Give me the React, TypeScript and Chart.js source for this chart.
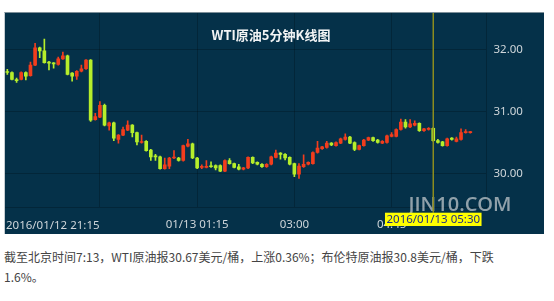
import React, { useEffect, useRef } from "react";
import { Chart, registerables } from "chart.js";

Chart.register(...registerables);

// ---- data ----
const openP = [
  31.64, 31.63, 31.51, 31.52, 31.63, 31.58, 31.75, 32.03, 31.98, 31.80,
  31.78, 31.76, 31.85, 31.90, 31.62, 31.57, 31.65, 31.69, 31.83, 30.87,
  30.91, 31.10, 30.77, 30.82, 30.55, 30.62, 30.70, 30.78, 30.66, 30.50,
  30.52, 30.38, 30.28, 30.27, 30.08, 30.12, 30.25, 30.25, 30.21, 30.44,
  30.48, 30.25, 30.10, 30.10, 30.12, 30.13, 30.13, 30.04, 30.21, 30.16,
  30.11, 30.07, 30.09, 30.26, 30.18, 30.15, 30.11, 30.15, 30.26, 30.33,
  30.31, 30.26, 30.16, 29.99, 30.11, 30.15, 30.16, 30.34, 30.40, 30.42,
  30.49, 30.45, 30.49, 30.55, 30.59, 30.50, 30.39, 30.45, 30.54, 30.58,
  30.54, 30.49, 30.50, 30.60, 30.60, 30.71, 30.83, 30.75, 30.78, 30.81,
  30.69, 30.71, 30.73, 30.53, 30.51, 30.45, 30.57, 30.52, 30.55, 30.66,
  30.66,
];
const highP = [
  31.68, 31.64, 31.54, 31.64, 31.64, 31.80, 32.10, 32.04, 32.17, 31.81,
  31.79, 31.88, 31.96, 31.91, 31.63, 31.66, 31.75, 31.84, 31.84, 30.97,
  31.16, 31.12, 30.83, 30.83, 30.63, 30.75, 30.85, 30.79, 30.67, 30.62,
  30.53, 30.39, 30.31, 30.28, 30.25, 30.26, 30.37, 30.26, 30.46, 30.55,
  30.49, 30.26, 30.14, 30.21, 30.19, 30.14, 30.14, 30.22, 30.24, 30.17,
  30.15, 30.10, 30.27, 30.27, 30.19, 30.16, 30.16, 30.28, 30.38, 30.34,
  30.32, 30.27, 30.17, 30.16, 30.30, 30.19, 30.35, 30.52, 30.44, 30.52,
  30.50, 30.51, 30.57, 30.64, 30.60, 30.51, 30.46, 30.55, 30.59, 30.59,
  30.55, 30.53, 30.62, 30.66, 30.72, 30.88, 30.87, 30.87, 30.85, 30.82,
  30.73, 30.74, 30.74, 30.55, 30.52, 30.57, 30.58, 30.59, 30.72, 30.71,
  30.68,
];
const lowP = [
  31.60, 31.51, 31.47, 31.51, 31.51, 31.57, 31.74, 31.87, 31.78, 31.67,
  31.70, 31.75, 31.84, 31.59, 31.49, 31.52, 31.64, 31.68, 30.84, 30.86,
  30.90, 30.77, 30.70, 30.53, 30.49, 30.61, 30.69, 30.59, 30.46, 30.49,
  30.36, 30.21, 30.21, 30.07, 30.07, 30.08, 30.24, 30.20, 30.20, 30.43,
  30.24, 30.08, 30.08, 30.09, 30.10, 30.06, 30.03, 30.03, 30.15, 30.09,
  30.06, 30.06, 30.08, 30.16, 30.14, 30.10, 30.10, 30.14, 30.25, 30.23,
  30.22, 30.14, 29.95, 29.92, 30.10, 30.14, 30.15, 30.33, 30.39, 30.41,
  30.45, 30.44, 30.48, 30.54, 30.48, 30.37, 30.38, 30.44, 30.53, 30.52,
  30.49, 30.48, 30.49, 30.59, 30.59, 30.70, 30.73, 30.74, 30.77, 30.68,
  30.68, 30.70, 30.52, 30.49, 30.44, 30.44, 30.54, 30.51, 30.54, 30.65,
  30.65,
];
const closeP = [
  31.63, 31.52, 31.50, 31.63, 31.57, 31.75, 32.03, 31.98, 31.79, 31.78,
  31.77, 31.85, 31.90, 31.60, 31.57, 31.65, 31.69, 31.83, 30.86, 30.92,
  31.10, 30.78, 30.82, 30.57, 30.62, 30.71, 30.78, 30.66, 30.51, 30.51,
  30.37, 30.27, 30.27, 30.08, 30.14, 30.25, 30.26, 30.21, 30.45, 30.48,
  30.25, 30.09, 30.11, 30.11, 30.11, 30.09, 30.04, 30.21, 30.16, 30.10,
  30.07, 30.09, 30.26, 30.17, 30.15, 30.11, 30.15, 30.27, 30.33, 30.31,
  30.25, 30.15, 29.99, 30.12, 30.15, 30.18, 30.34, 30.41, 30.43, 30.49,
  30.46, 30.50, 30.56, 30.59, 30.49, 30.39, 30.45, 30.54, 30.58, 30.53,
  30.50, 30.52, 30.61, 30.63, 30.71, 30.83, 30.75, 30.80, 30.81, 30.69,
  30.72, 30.73, 30.53, 30.50, 30.45, 30.56, 30.55, 30.56, 30.66, 30.67,
  30.67,
];

const slotCount = 104; // 5-minute slots on the axis (last few empty)
const startMinutes = 21 * 60 + 50; // first candle 21:50
const categories: string[] = [];
for (let i = 0; i < slotCount; i++) {
  const m = (startMinutes + i * 5) % 1440;
  categories.push(
    String(Math.floor(m / 60)).padStart(2, "0") + ":" + String(m % 60).padStart(2, "0")
  );
}

const gridIdx = [20, 41, 62, 83];
const axisTickIdx = [41, 62, 83];
const axisTickText = ["01/13 01:15", "03:00", "04:45"];
const firstLabel = "2016/01/12 21:15";
const crossIdx = 92;
const crossLabel = "2016/01/13 05:30";
const yTicks = [30, 31, 32];
const yMin = 29.46;
const yMax = 32.59;
const titleText = "WTI原油5分钟K线图";
const watermark = "JIN10.COM";

// ---- styles ----
const BG = "#053149";
const GRID = "rgba(0,0,0,0.22)";
const TICK = "#cfd6da";
const UP = "#f23d1d";
const DOWN = "#b6ee2b";
const FONT = '"Noto Sans", "Open Sans", sans-serif';

export default function App() {
  const ref = useRef<HTMLCanvasElement>(null);

  useEffect(() => {
    const colors = openP.map((o, i) => (closeP[i] >= o ? UP : DOWN));
    const wicks = openP.map((_, i) => [lowP[i], highP[i]]);
    const bodies = openP.map((o, i) => [o, closeP[i]]);

    const overlay = {
      id: "overlay",
      afterDraw(chart: any) {
        const { ctx, chartArea, scales } = chart;
        const xs = scales.x;
        ctx.save();
        // title
        ctx.font = 'bold 13px "Noto Sans CJK SC", sans-serif';
        ctx.fillStyle = "#f2f4f5";
        ctx.textAlign = "center";
        ctx.textBaseline = "middle";
        ctx.fillText(titleText, 266, 22);
        // first (left-aligned) x label
        ctx.font = "11.5px " + FONT;
        ctx.fillStyle = TICK;
        ctx.textAlign = "left";
        ctx.fillText(firstLabel, chartArea.left + 1, 213);
        // watermark
        ctx.font = '600 20px "Open Sans", sans-serif';
        ctx.fillStyle = "rgba(200,205,208,0.72)";
        ctx.textAlign = "center";
        ctx.fillText(watermark, 455, 192);
        // crosshair
        const cx = xs.getPixelForValue(crossIdx);
        const boxTop = 199.7;
        const boxH = 13.3;
        ctx.strokeStyle = "#8c8c1e";
        ctx.lineWidth = 1.5;
        ctx.beginPath();
        ctx.moveTo(cx, 0);
        ctx.lineTo(cx, boxTop);
        ctx.stroke();
        ctx.font = "11.5px " + FONT;
        const tw = ctx.measureText(crossLabel).width + 3;
        ctx.fillStyle = "#ffff00";
        ctx.fillRect(cx - tw / 2, boxTop, tw, boxH);
        ctx.fillStyle = "#1e2e86";
        ctx.textAlign = "center";
        ctx.fillText(crossLabel, cx, boxTop + boxH / 2 + 0.5);
        ctx.restore();
      },
    };

    const chart = new Chart(ref.current!, {
      type: "bar",
      data: {
        labels: categories,
        datasets: [
          {
            data: bodies as any,
            backgroundColor: colors,
            borderWidth: 0,
            barThickness: 3,
            minBarLength: 1,
            grouped: false,
            order: 0,
          } as any,
          {
            data: wicks as any,
            backgroundColor: colors,
            borderWidth: 0,
            barThickness: 1,
            grouped: false,
            order: 1,
          } as any,
        ],
      },
      options: {
        responsive: false,
        animation: false,
        events: [],
        layout: { padding: 0 },
        plugins: { legend: { display: false }, tooltip: { enabled: false }, title: { display: false } },
        scales: {
          x: {
            type: "category",
            offset: true,
            grid: {
              offset: false,
              drawTicks: false,
              color: (c: any) => (gridIdx.includes(c.index) ? GRID : "rgba(0,0,0,0)"),
            },
            border: { display: true, color: GRID },
            ticks: {
              autoSkip: false,
              maxRotation: 0,
              minRotation: 0,
              padding: 11,
              color: TICK,
              font: { family: FONT, size: 11.5 },
              callback: (_v: any, i: number) => {
                const k = axisTickIdx.indexOf(i);
                return k >= 0 ? axisTickText[k] : "";
              },
            },
            afterFit: (s: any) => {
              s.height = 27;
              s.paddingLeft = 0;
              s.paddingRight = 0;
            },
          },
          y: {
            position: "right",
            min: yMin,
            max: yMax,
            afterBuildTicks: (s: any) => {
              s.ticks = yTicks.map((value) => ({ value }));
            },
            grid: { color: GRID, drawTicks: false },
            border: { display: true, color: GRID },
            ticks: {
              padding: 7,
              color: TICK,
              font: { family: FONT, size: 11.5 },
              callback: (v: any) => Number(v).toFixed(2),
            },
            afterFit: (s: any) => {
              s.width = 57.5;
              s.paddingTop = 0;
              s.paddingBottom = 0;
            },
          },
        },
      } as any,
      plugins: [overlay],
    });
    return () => chart.destroy();
  }, []);

  return (
    <div style={{ position: "absolute", left: 0, top: 0, width: 554, height: 301, background: "#fff" }}>
      <div
        style={{
          position: "absolute",
          left: 4,
          top: 12,
          width: 540,
          height: 222,
          boxSizing: "border-box",
          borderTop: "1px solid #7d8f99",
          borderLeft: "1px solid #c5cdd2",
          background: BG,
        }}
      >
        <canvas ref={ref} width={539} height={221} style={{ display: "block", width: 539, height: 221 }} />
      </div>
      <div
        style={{
          position: "absolute",
          left: 4,
          top: 247,
          fontFamily: '"Noto Sans CJK SC", sans-serif',
          fontSize: 12,
          lineHeight: "20.4px",
          color: "#444",
          whiteSpace: "nowrap",
        }}
      >
        截至北京时间7:13，WTI原油报30.67美元/桶，上涨0.36%；布伦特原油报30.8美元/桶，下跌
        <br />
        1.6%。
      </div>
    </div>
  );
}
